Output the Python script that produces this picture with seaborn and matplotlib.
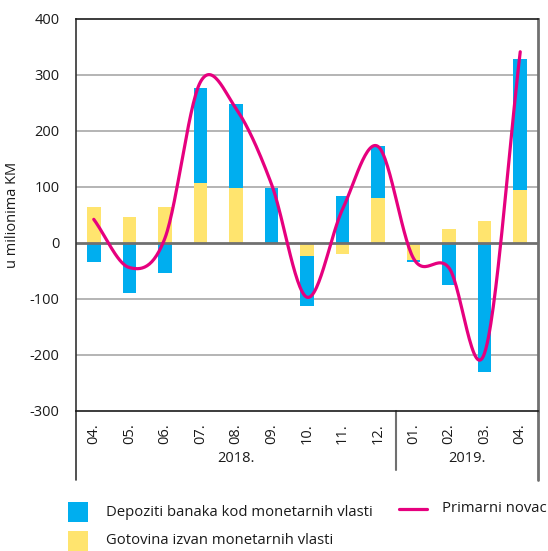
import numpy as np
import pandas as pd
import matplotlib
matplotlib.use("Agg")
import matplotlib.pyplot as plt
import seaborn as sns
from matplotlib.patches import Rectangle
from matplotlib.lines import Line2D

months = ["04.", "05.", "06.", "07.", "08.", "09.", "10.", "11.", "12.", "01.", "02.", "03.", "04."]
years = ["2018.", "2019."]
year_counts = [9, 4]
gotovina = [64, 46, 64, 106, 98, -1, -24, -20, 80, -30, 24, 39, 95]
depoziti = [-35, -90, -53, 170, 149, 98, -88, 84, 92, -4, -75, -230, 233]
primarni = [42, -44, 8, 287, 240, 105, -97, 60, 172, -28, -45, -196, 341]

name_dep = "Depoziti banaka kod monetarnih vlasti"
name_got = "Gotovina izvan monetarnih vlasti"
name_prim = "Primarni novac"

C_BLUE = "#00AEEF"
C_YEL = "#FFE46E"
C_PINK = "#E6007E"

sns.set_theme(style="white")
plt.rcParams["font.family"] = ["Open Sans", "DejaVu Sans"]

fig = plt.figure(figsize=(5.48, 5.51), dpi=100)
ax = fig.add_axes([76 / 548, 1 - 411 / 551, (538 - 76) / 548, (411 - 18.7) / 551])

cats = [f"{i}" for i in range(len(months))]
got = np.array(gotovina, float)
dep = np.array(depoziti, float)
# blue stacks on top of yellow when same sign, otherwise from zero
bottom_dep = np.where(np.sign(got) == np.sign(dep), got, 0.0)

df = pd.DataFrame({"cat": cats, "got": got, "dep": dep})
sns.barplot(data=df, x="cat", y="got", color=C_YEL, width=0.38, saturation=1,
            ax=ax, linewidth=0, order=cats)
sns.barplot(data=df, x="cat", y="dep", color=C_BLUE, width=0.38, saturation=1,
            ax=ax, linewidth=0, order=cats, bottom=bottom_dep)

# smoothed line (Catmull-Rom, like spreadsheet smoothing)
p = np.array(primarni, float)
xs = np.arange(len(p), dtype=float)
pts = np.concatenate([[2 * p[0] - p[1]], p, [2 * p[-1] - p[-2]]])
cx, cy = [], []
for i in range(len(p) - 1):
    p0, p1, p2, p3 = pts[i], pts[i + 1], pts[i + 2], pts[i + 3]
    m1 = (p2 - p0) / 2
    m2 = (p3 - p1) / 2
    t = np.linspace(0, 1, 30, endpoint=(i == len(p) - 2))
    h00 = 2 * t**3 - 3 * t**2 + 1
    h10 = t**3 - 2 * t**2 + t
    h01 = -2 * t**3 + 3 * t**2
    h11 = t**3 - t**2
    cy.extend(h00 * p1 + h10 * m1 + h01 * p2 + h11 * m2)
    cx.extend(xs[i] + t)
line_df = pd.DataFrame({"x": cx, "y": cy})
sns.lineplot(data=line_df, x="x", y="y", sort=False, color=C_PINK, linewidth=2.3,
             ax=ax, estimator=None, zorder=5)

ax.set_xlim(-0.5, len(months) - 0.5)
ax.set_ylim(-300, 400)
ax.set_yticks(range(-300, 401, 100))
ax.set_yticklabels([str(v) for v in range(-300, 401, 100)], fontsize=10.5, color="#1a1a1a")
ax.tick_params(axis="y", length=0, pad=12)
for v in range(-200, 400, 100):
    if v == 0:
        ax.axhline(0, color="#707070", lw=2.0, zorder=1)
    else:
        ax.axhline(v, color="#A8A8A8", lw=1.2, zorder=0)

ax.set_xticks(range(len(months)))
ax.set_xticklabels(months, rotation=90, fontsize=10.5, color="#1a1a1a", va="top")
ax.tick_params(axis="x", length=0, pad=8.5)
ax.set_xlabel("")
ax.set_ylabel("u milionima KM", fontsize=10.5, color="#1a1a1a", labelpad=7)

for side in ["top", "bottom"]:
    ax.spines[side].set_color("#1a1a1a")
    ax.spines[side].set_linewidth(1.2)
ax.spines["left"].set_color("#333333")
ax.spines["left"].set_linewidth(1.2)
ax.spines["right"].set_color("#707070")
ax.spines["right"].set_linewidth(2.0)

# category table lines below the axis
trans = ax.get_xaxis_transform()
ax_h = 411 - 18.7
y_outer = -(480 - 411) / ax_h
y_div = -(470 - 411) / ax_h
y_year = -(459 - 411) / ax_h
ax.add_line(Line2D([-0.5, -0.5], [0, y_outer], transform=trans, color="#333333", lw=1.2, clip_on=False))
ax.add_line(Line2D([len(months) - 0.5] * 2, [0, y_outer], transform=trans, color="#707070", lw=2.0, clip_on=False))
start = 0
for yr, n in zip(years, year_counts):
    ax.text(start + (n - 1) / 2, y_year, yr, transform=trans, ha="center", va="center",
            fontsize=10.5, color="#1a1a1a")
    start += n
    if start < len(months):
        ax.add_line(Line2D([start - 0.5] * 2, [0, y_div], transform=trans, color="#707070",
                           lw=1.5, clip_on=False))

# legend (manual)
W, H = 548, 551
def fx(px):
    return px / W
def fy(py):
    return 1 - py / H
fig.add_artist(Rectangle((fx(68), fy(522)), 20 / W, 20 / H, transform=fig.transFigure,
                         facecolor=C_BLUE, edgecolor="none"))
fig.add_artist(Rectangle((fx(68), fy(551)), 20 / W, 20 / H, transform=fig.transFigure,
                         facecolor=C_YEL, edgecolor="none"))
fig.add_artist(Line2D([fx(399), fx(427)], [fy(509), fy(509)], transform=fig.transFigure,
                      color=C_PINK, lw=2.3))
fig.text(fx(106), fy(512), name_dep, fontsize=10.7, va="center", color="#1a1a1a")
fig.text(fx(106), fy(541), name_got, fontsize=10.7, va="center", color="#1a1a1a")
fig.text(fx(442), fy(509), name_prim, fontsize=10.7, va="center", color="#1a1a1a")

fig.savefig("out.png", dpi=100)
